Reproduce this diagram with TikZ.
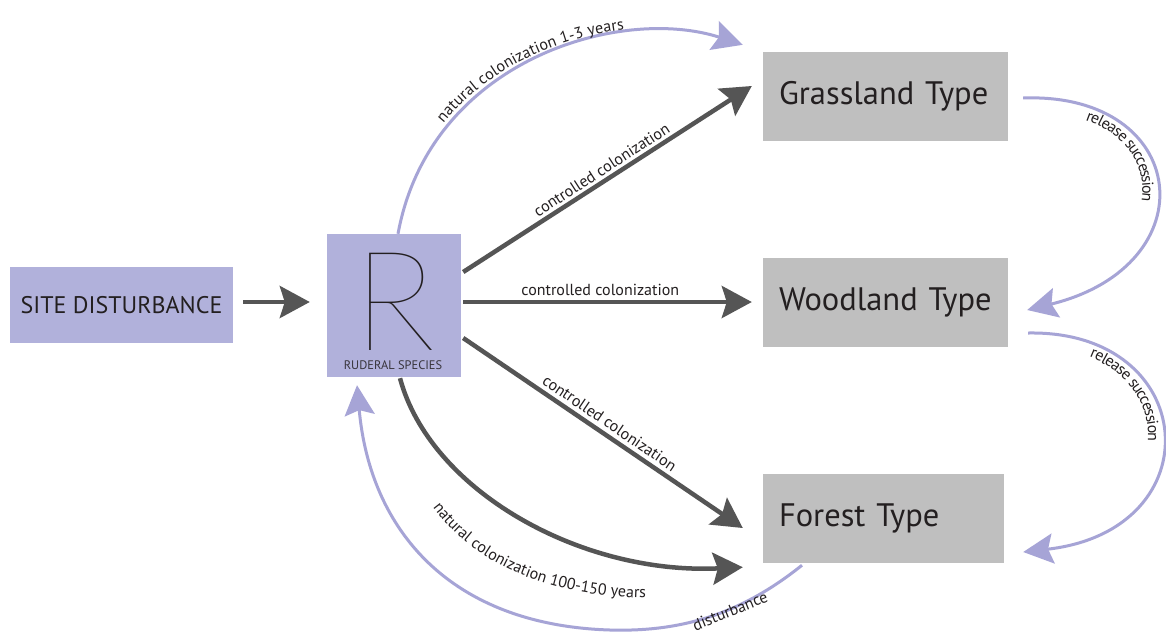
\documentclass[tikz,border=0pt]{standalone}
\usepackage{fontspec}
\setmainfont{PT Sans}
\newfontfamily\rfont{Lato Thin}
\usetikzlibrary{arrows.meta,decorations.text,calc}
\definecolor{boxlav}{RGB}{177,177,219}
\definecolor{linelav}{RGB}{166,164,214}
\definecolor{boxgray}{RGB}{191,191,191}
\definecolor{arrowgray}{RGB}{85,85,85}
\definecolor{ink}{RGB}{35,31,32}
\newcommand{\lblfont}{\fontsize{16}{18}\selectfont}
\tikzset{
  lavbox/.style={fill=boxlav, draw=none, inner sep=0pt, text=ink},
  typebox/.style={fill=boxgray, draw=none, inner ysep=0pt, inner xsep=16pt,
    align=left, minimum height=89pt, text=ink,
    font=\fontsize{32.5}{34}\selectfont},
  darr/.style={draw=arrowgray, line width=4.5pt,
    -{Stealth[length=30pt,width=32pt,inset=5pt]}},
  larr/.style={draw=linelav, line width=3pt,
    -{Stealth[length=30pt,width=30pt,inset=5pt,fill=linelav]}},
  lbl/.style={font=\lblfont, text=ink, inner sep=0pt},
}
\begin{document}
\begin{tikzpicture}[x=1pt,y=-1pt]
\fill[white] (0,0) rectangle (1166,633);
\useasboundingbox (0,0) rectangle (1166,633);

% boxes
\node[lavbox, minimum width=223pt, minimum height=76pt,
  font=\fontsize{24}{28}\selectfont] (site) at (121.5,305) {SITE DISTURBANCE};
\node[lavbox, minimum width=134pt, minimum height=143pt] (rbox) at (394,305.5) {};
\node[font=\rfont\fontsize{139}{139}\selectfont, text=ink, inner sep=0pt,
  anchor=base] (rletter) at (394.5,350) {R};
\node[font=\fontsize{12.4}{13}\selectfont, text=ink!85!boxlav, inner sep=0pt]
  (rlabel) at (393,365) {RUDERAL SPECIES};
\node[typebox, text width=213pt] (grass) at (885.5,96.5) {Grassland Type};
\node[typebox, text width=213pt] (wood) at (885.5,302) {Woodland Type};
\node[typebox, text width=209pt] (forest) at (883.5,518.5) {Forest Type};

% connector end points
\coordinate (ncs) at ($(rbox.north)+(4,0)$);
\coordinate (nce) at ($(grass.north west)+(-20,-7)$);
\coordinate (nls) at ($(rbox.south)+(6,1)$);
\coordinate (nle) at ($(forest.south west)+(-20,4)$);
\coordinate (r1s) at ($(grass.east)+(15,1.5)$);
\coordinate (r1e) at ($(wood.east)+(19,8)$);
\coordinate (r2s) at ($(wood.east)+(20,31)$);
\coordinate (r2e) at ($(forest.east)+(19,33.5)$);
\coordinate (ds) at ($(forest.south)+(-81.5,2)$);
\coordinate (de) at ($(rbox.south)+(-37,8)$);
% baseline of the label under the curved dark arrow
\coordinate (nlts) at (422,492);
\coordinate (nlte) at (665,598);

% straight dark arrows
\draw[darr] ($(site.east)+(10,-3)$) -- ($(rbox.west)+(-17,-3.5)$);
\draw[darr] ($(rbox.east)+(2,-33.5)$) -- ($(grass.west)+(-11,-10.5)$)
  node[lbl, pos=0.5, above=3pt, sloped] {controlled colonization};
\draw[darr] ($(rbox.east)+(2,-3.5)$) -- ($(wood.west)+(-11,0)$)
  node[lbl, pos=0.475, above=4pt] {controlled colonization};
\draw[darr] ($(rbox.east)+(2,32.5)$) -- ($(forest.west)+(-20,9.5)$)
  node[lbl, pos=0.5, above=4pt, sloped] {controlled colonization};

% curved dark arrow
\draw[darr] (nls) .. controls (430,490) and (580,575) .. (nle);
\path[decorate, decoration={text along path, text align=center,
  text={|\lblfont\color{ink}|natural colonization 100-150 years}}]
  (nlts) .. controls (470,570) and (560,600) .. (nlte);

% lavender curves
\draw[larr] (ncs) .. controls (430,60) and (620,5) .. (nce);
\path[decorate, decoration={text along path, raise=5pt, text align=center,
  text={|\lblfont\color{ink}|natural colonization 1-3 years}}]
  (ncs) .. controls (430,60) and (620,5) .. (nce);

\draw[larr] (r1s) .. controls (1190,92) and (1210,265) .. (r1e);
\path[decorate, decoration={text along path, raise=-14pt,
  text align={left indent=68pt},
  text={|\lblfont\color{ink}|release succession}}]
  (r1s) .. controls (1190,92) and (1210,265) .. (r1e);

\draw[larr] (r2s) .. controls (1200,330) and (1215,530) .. (r2e);
\path[decorate, decoration={text along path, raise=-14pt,
  text align={left indent=68pt},
  text={|\lblfont\color{ink}|release succession}}]
  (r2s) .. controls (1200,330) and (1215,530) .. (r2e);

\draw[larr] (ds) .. controls (740,615) and (680,632) .. (610,630)
  .. controls (450,625) and (370,530) .. (de);
\node[lbl, rotate=22] (distlbl) at (730,611) {disturbance};
\end{tikzpicture}
\end{document}
